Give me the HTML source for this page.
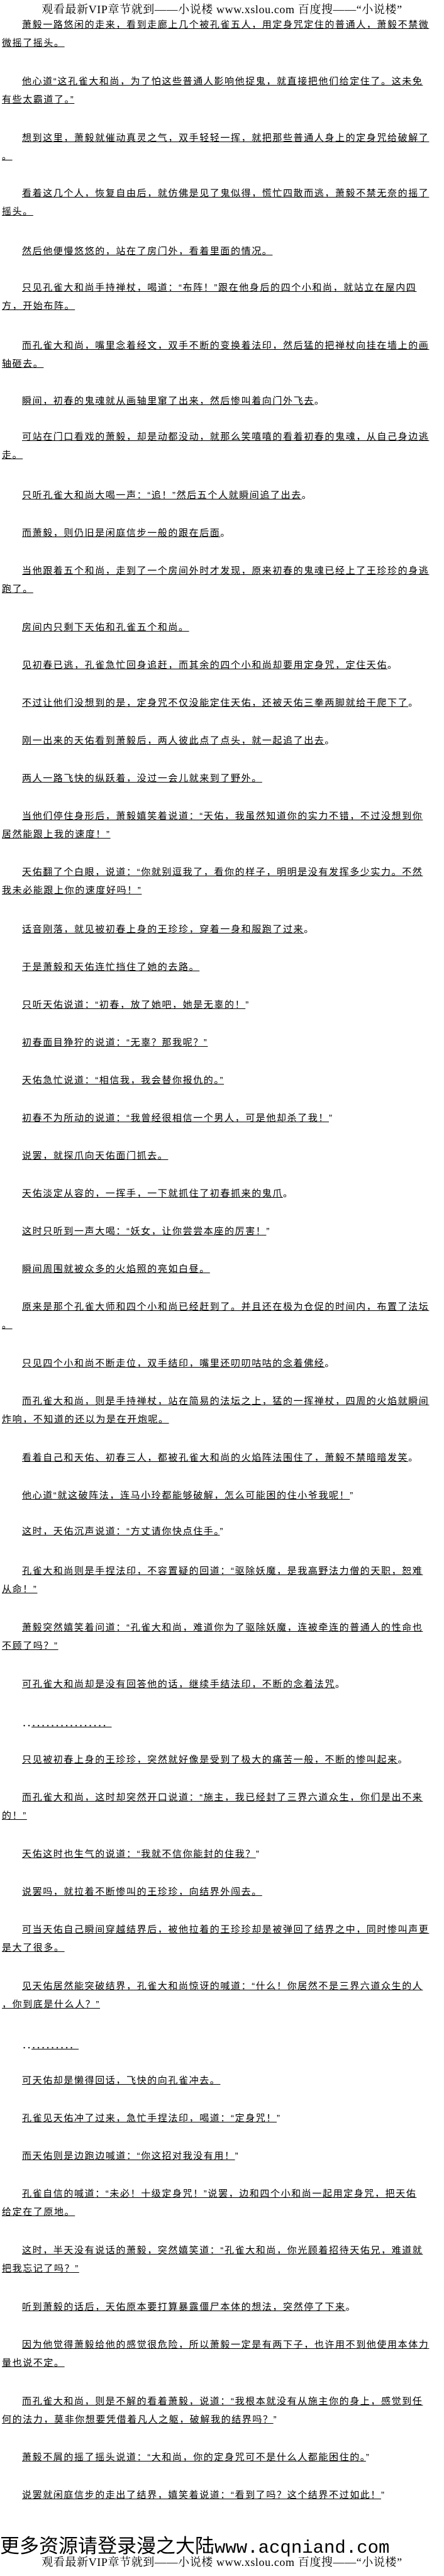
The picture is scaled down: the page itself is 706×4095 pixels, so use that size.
<!DOCTYPE html>
<html><head><meta charset="utf-8">
<style>
html,body{margin:0;padding:0;background:#fff;}
body{width:706px;height:4095px;position:relative;overflow:hidden;color:#000;
font-family:"Liberation Sans","Noto Sans CJK SC","WenQuanYi Zen Hei",sans-serif;}
.h{position:absolute;left:0;width:706px;text-align:center;font-size:18px;line-height:22px;white-space:nowrap;
font-family:"Liberation Serif","Noto Serif CJK SC","Noto Sans CJK SC",serif;letter-spacing:0.6px;}
.p{position:absolute;left:3px;font-size:15px;line-height:29px;letter-spacing:1.6px;white-space:nowrap;text-indent:32px;}
.p span{text-decoration:underline;}
.f{position:absolute;left:0;top:4031px;font-size:31px;line-height:34px;white-space:nowrap;
font-family:"Liberation Sans","Noto Sans CJK SC",sans-serif;}
.f .m{font-family:"Liberation Mono",monospace;font-size:29px;}
</style></head><body>
<div class="h" style="top:4px">观看最新VIP章节就到——小说楼 www.xslou.com 百度搜——“小说楼”</div>

<div class="p" style="top:25px"><span>萧毅一路悠闲的走来，看到走廊上几个被孔雀五人，用定身咒定住的普通人，萧毅不禁微<br>微摇了摇头。</span></div>
<div class="p" style="top:115px"><span>他心道“这孔雀大和尚，为了怕这些普通人影响他捉鬼，就直接把他们给定住了。这未免<br>有些太霸道了。”</span></div>
<div class="p" style="top:205px"><span>想到这里，萧毅就催动真灵之气，双手轻轻一挥，就把那些普通人身上的定身咒给破解了<br>。</span></div>
<div class="p" style="top:293px"><span>看着这几个人，恢复自由后，就仿佛是见了鬼似得，慌忙四散而逃，萧毅不禁无奈的摇了<br>摇头。</span></div>
<div class="p" style="top:385px"><span>然后他便慢悠悠的，站在了房门外，看着里面的情况。</span></div>
<div class="p" style="top:443px"><span>只见孔雀大和尚手持禅杖，喝道：“布阵！”跟在他身后的四个小和尚，就站立在屋内四<br>方，开始布阵。</span></div>
<div class="p" style="top:535px"><span>而孔雀大和尚，嘴里念着经文，双手不断的变换着法印，然后猛的把禅杖向挂在墙上的画<br>轴砸去。</span></div>
<div class="p" style="top:623px"><span>瞬间，初春的鬼魂就从画轴里窜了出来，然后惨叫着向门外飞去</span>。</div>
<div class="p" style="top:680px"><span>可站在门口看戏的萧毅，却是动都没动，就那么笑嘻嘻的看着初春的鬼魂，从自己身边逃<br>走。</span></div>
<div class="p" style="top:773px"><span>只听孔雀大和尚大喝一声：“追！”然后五个人就瞬间追了出去</span>。</div>
<div class="p" style="top:833px"><span>而萧毅，则仍旧是闲庭信步一般的跟在后面</span>。</div>
<div class="p" style="top:893px"><span>当他跟着五个和尚，走到了一个房间外时才发现，原来初春的鬼魂已经上了王珍珍的身逃<br>跑了。</span></div>
<div class="p" style="top:983px"><span>房间内只剩下天佑和孔雀五个和尚。</span></div>
<div class="p" style="top:1043px"><span>见初春已逃，孔雀急忙回身追赶，而其余的四个小和尚却要用定身咒，定住天佑</span>。</div>
<div class="p" style="top:1103px"><span>不过让他们没想到的是，定身咒不仅没能定住天佑，还被天佑三拳两脚就给干爬下了</span>。</div>
<div class="p" style="top:1163px"><span>刚一出来的天佑看到萧毅后，两人彼此点了点头，就一起追了出去</span>。</div>
<div class="p" style="top:1223px"><span>两人一路飞快的纵跃着，没过一会儿就来到了野外。</span></div>
<div class="p" style="top:1283px"><span>当他们停住身形后，萧毅嬉笑着说道：“天佑，我虽然知道你的实力不错，不过没想到你<br>居然能跟上我的速度！”</span></div>
<div class="p" style="top:1372px"><span>天佑翻了个白眼，说道：“你就别逗我了，看你的样子，明明是没有发挥多少实力。不然<br>我未必能跟上你的速度好吗！”</span></div>
<div class="p" style="top:1463px"><span>话音刚落，就见被初春上身的王珍珍，穿着一身和服跑了过来</span>。</div>
<div class="p" style="top:1523px"><span>于是萧毅和天佑连忙挡住了她的去路。</span></div>
<div class="p" style="top:1583px"><span>只听天佑说道：“初春，放了她吧，她是无辜的！</span>”</div>
<div class="p" style="top:1643px"><span>初春面目狰狞的说道：“无辜？那我呢？”</span></div>
<div class="p" style="top:1703px"><span>天佑急忙说道：“相信我，我会替你报仇的。”</span></div>
<div class="p" style="top:1763px"><span>初春不为所动的说道：“我曾经很相信一个男人，可是他却杀了我！</span>”</div>
<div class="p" style="top:1823px"><span>说罢，就探爪向天佑面门抓去。</span></div>
<div class="p" style="top:1883px"><span>天佑淡定从容的，一挥手，一下就抓住了初春抓来的鬼爪</span>。</div>
<div class="p" style="top:1943px"><span>这时只听到一声大喝：“妖女，让你尝尝本座的厉害！</span>”</div>
<div class="p" style="top:2003px"><span>瞬间周围就被众多的火焰照的亮如白昼。</span></div>
<div class="p" style="top:2063px"><span>原来是那个孔雀大师和四个小和尚已经赶到了。并且还在极为仓促的时间内，布置了法坛<br>。</span></div>
<div class="p" style="top:2153px"><span>只见四个小和尚不断走位，双手结印，嘴里还叨叨咕咕的念着佛经</span>。</div>
<div class="p" style="top:2213px"><span>而孔雀大和尚，则是手持禅杖，站在简易的法坛之上，猛的一挥禅杖，四周的火焰就瞬间<br>炸响，不知道的还以为是在开炮呢。</span></div>
<div class="p" style="top:2303px"><span>看着自己和天佑、初春三人，都被孔雀大和尚的火焰阵法围住了，萧毅不禁暗暗发笑</span>。</div>
<div class="p" style="top:2363px"><span>他心道“就这破阵法，连马小玲都能够破解，怎么可能困的住小爷我呢！</span>”</div>
<div class="p" style="top:2420px"><span>这时，天佑沉声说道：“方丈请你快点住手。</span>”</div>
<div class="p" style="top:2483px"><span>孔雀大和尚则是手捏法印，不容置疑的回道：“驱除妖魔，是我高野法力僧的天职，恕难<br>从命！”</span></div>
<div class="p" style="top:2573px"><span>萧毅突然嬉笑着问道：“孔雀大和尚，难道你为了驱除妖魔，连被牵连的普通人的性命也<br>不顾了吗？”</span></div>
<div class="p" style="top:2663px"><span>可孔雀大和尚却是没有回答他的话，继续手结法印，不断的念着法咒</span>。</div>
<div class="p" style="top:2725px;letter-spacing:0">．．<span>．．．．．．．．．．．．．．．．</span></div>
<div class="p" style="top:2783px"><span>只见被初春上身的王珍珍，突然就好像是受到了极大的痛苦一般，不断的惨叫起来</span>。</div>
<div class="p" style="top:2843px"><span>而孔雀大和尚，这时却突然开口说道：“施主，我已经封了三界六道众生，你们是出不来<br>的！”</span></div>
<div class="p" style="top:2933px"><span>天佑这时也生气的说道：“我就不信你能封的住我？</span>”</div>
<div class="p" style="top:2993px"><span>说罢吗，就拉着不断惨叫的王珍珍，向结界外闯去。</span></div>
<div class="p" style="top:3053px"><span>可当天佑自己瞬间穿越结界后，被他拉着的王珍珍却是被弹回了结界之中，同时惨叫声更<br>是大了很多。</span></div>
<div class="p" style="top:3143px"><span>见天佑居然能突破结界，孔雀大和尚惊讶的喊道：“什么！你居然不是三界六道众生的人<br>，你到底是什么人？”</span></div>
<div class="p" style="top:3237px;letter-spacing:0">．．<span>．．．．．．．．．</span></div>
<div class="p" style="top:3293px"><span>可天佑却是懒得回话，飞快的向孔雀冲去。</span></div>
<div class="p" style="top:3353px"><span>孔雀见天佑冲了过来，急忙手捏法印，喝道：“定身咒！</span>”</div>
<div class="p" style="top:3413px"><span>而天佑则是边跑边喊道：“你这招对我没有用！</span>”</div>
<div class="p" style="top:3473px"><span>孔雀自信的喊道：“未必！十级定身咒！”说罢，边和四个小和尚一起用定身咒，把天佑<br>给定在了原地。</span></div>
<div class="p" style="top:3563px"><span>这时，半天没有说话的萧毅，突然嬉笑道：“孔雀大和尚，你光顾着招待天佑兄，难道就<br>把我忘记了吗？”</span></div>
<div class="p" style="top:3653px"><span>听到萧毅的话后，天佑原本要打算暴露僵尸本体的想法，突然停了下来</span>。</div>
<div class="p" style="top:3713px"><span>因为他觉得萧毅给他的感觉很危险，所以萧毅一定是有两下子，也许用不到他使用本体力<br>量也说不定。</span></div>
<div class="p" style="top:3803px"><span>而孔雀大和尚，则是不解的看着萧毅，说道：“我根本就没有从施主你的身上，感觉到任<br>何的法力，莫非你想要凭借着凡人之躯，破解我的结界吗？</span>”</div>
<div class="p" style="top:3892px"><span>萧毅不屑的摇了摇头说道：“大和尚，你的定身咒可不是什么人都能困住的。</span>”</div>
<div class="p" style="top:3952px"><span>说罢就闲庭信步的走出了结界，嬉笑着说道：“看到了吗？这个结界不过如此！</span>”</div>

<div class="f">更多资源请登录漫之大陆<span class="m">www.acqniand.com</span></div>
<div class="h" style="top:4062px">观看最新VIP章节就到——小说楼 www.xslou.com 百度搜——“小说楼”</div>
</body></html>
